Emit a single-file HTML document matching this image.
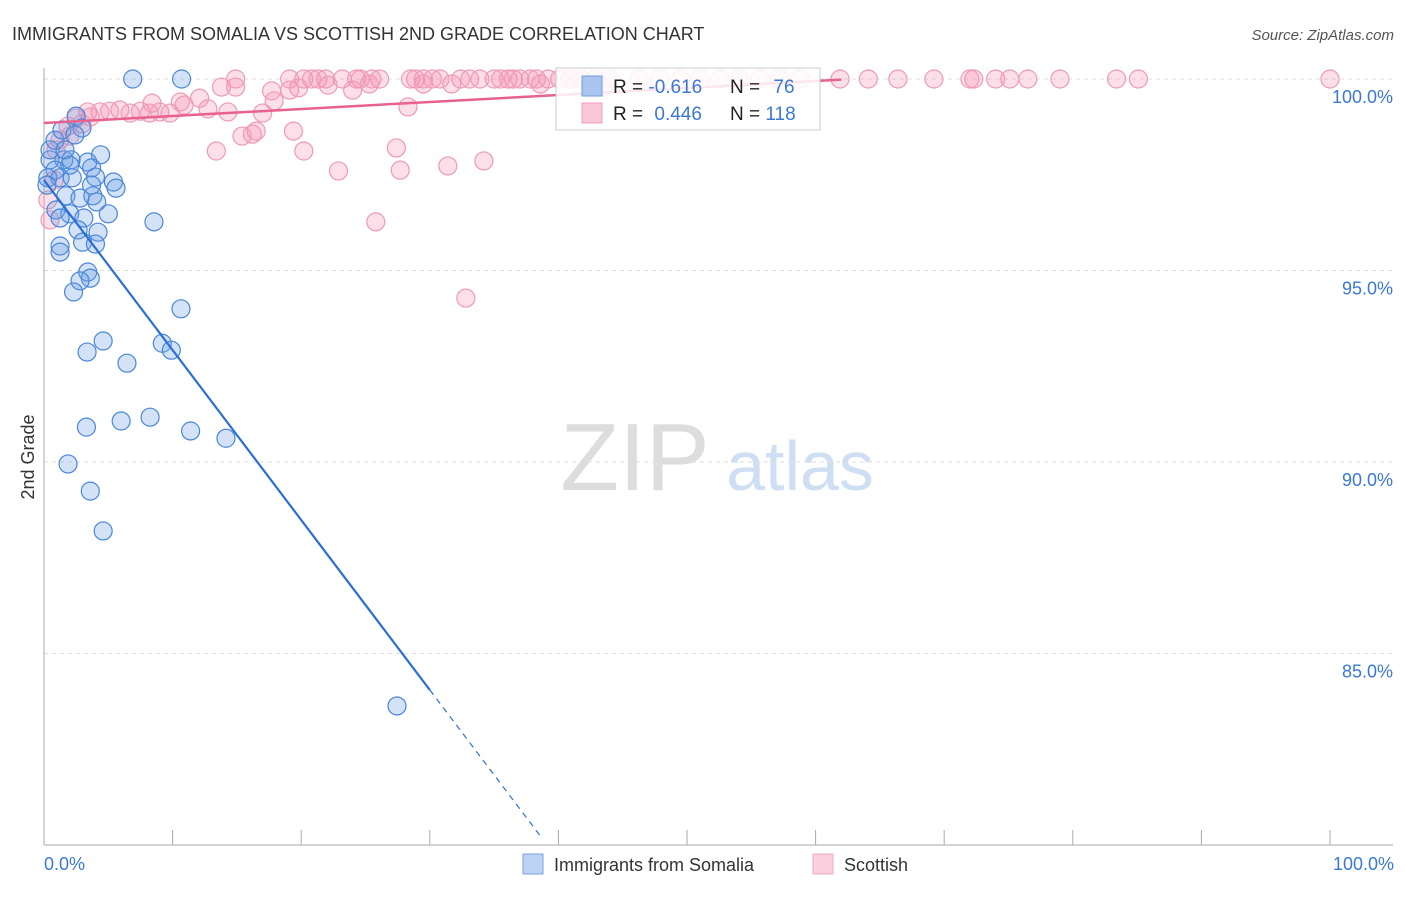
<!DOCTYPE html>
<html><head><meta charset="utf-8"><style>
body{margin:0;background:#fff;font-family:"Liberation Sans",sans-serif;}
svg text{font-family:"Liberation Sans",sans-serif;}
</style></head><body>
<svg id="chart" width="1406" height="892" xmlns="http://www.w3.org/2000/svg">
<text x="12" y="40" font-size="18" fill="#333">IMMIGRANTS FROM SOMALIA VS SCOTTISH 2ND GRADE CORRELATION CHART</text>
<text x="1394" y="40" font-size="15" fill="#555" font-style="italic" text-anchor="end">Source: ZipAtlas.com</text>
<text x="635" y="490" font-size="96" fill="#ddd" font-family="Liberation Serif,serif" text-anchor="middle">ZIP</text>
<text x="800" y="490" font-size="70" fill="#cfdff3" text-anchor="middle">atlas</text>
<g id="grid"></g><g id="axes"></g><g id="pts"></g><g id="lines"></g>
<g>
<rect x="556" y="68" width="264" height="62" fill="#fff" fill-opacity="0.85" stroke="#ccc"/>
<rect x="582" y="76" width="20" height="20" fill="#a9c4ee" stroke="#6f9be0"/>
<rect x="582" y="103" width="20" height="20" fill="#f9c6d6" stroke="#eca0b8"/>
<text x="613" y="93" font-size="19" fill="#222">R = <tspan fill="#3a78d4">-0.616</tspan></text>
<text x="730" y="93" font-size="19" fill="#222">N = <tspan fill="#3a78d4" dx="8">76</tspan></text>
<text x="613" y="120" font-size="19" fill="#222">R = <tspan fill="#3a78d4" dx="6">0.446</tspan></text>
<text x="730" y="120" font-size="19" fill="#222">N = <tspan fill="#3a78d4">118</tspan></text>
</g>
<text x="34" y="457" font-size="18" fill="#333" transform="rotate(-90 34 457)" text-anchor="middle">2nd Grade</text>
<text x="44" y="870" font-size="18" fill="#3a78d4">0.0%</text>
<text x="1394" y="870" font-size="18" fill="#3a78d4" text-anchor="end">100.0%</text>
<rect x="523" y="854" width="20" height="20" fill="#bcd3f4" stroke="#7aa3e2"/>
<text x="554" y="871" font-size="18" fill="#333">Immigrants from Somalia</text>
<rect x="813" y="854" width="20" height="20" fill="#fbd0de" stroke="#eeaac0"/>
<text x="844" y="871" font-size="18" fill="#333">Scottish</text>
</svg>
<script>
const yTicks=[100,95,90,85];
const yTickLabels=["100.0%","95.0%","90.0%","85.0%"];
const xTicks=[0,10,20,30,40,50,60,70,80,90,100];
const blueX=[6.9,10.7,2.5,2.95,4.4,3.4,3.7,1.55,2.1,0.47,0.86,0.3,1.25,2.2,4.0,3.7,5.4,5.6,1.7,2.8,3.8,4.1,0.93,5.0,2.0,1.25,3.1,8.55,2.65,4.2,3.0,4.0,1.25,1.25,3.4,3.6,2.8,2.3,10.65,4.6,3.35,9.2,9.9,6.45,3.3,6.0,8.25,11.4,14.15,1.87,3.6,4.6,27.45,0.47,0.86,1.63,0.23,1.4,2.4,2.0];
const blueY=[100,100,99.03,98.72,98.02,97.83,97.68,97.89,97.89,97.89,97.62,97.42,97.42,97.42,97.44,97.23,97.31,97.15,96.95,96.89,96.95,96.79,96.58,96.48,96.48,96.37,96.37,96.27,96.06,96.0,95.74,95.69,95.64,95.48,94.96,94.8,94.73,94.44,94.0,93.16,92.87,93.1,92.92,92.58,90.91,91.07,91.17,90.81,90.62,89.95,89.24,88.2,83.63,98.15,98.4,98.15,97.23,98.67,98.54,97.75];
const pinkTopX=[14.9,19.1,20.2,20.8,21.3,21.9,23.2,24.3,24.6,25.5,26.1,28.5,28.9,29.5,30.2,30.8,32.4,33.1,33.9,35.0,35.5,36.1,36.5,37.0,37.8,38.3,39.2,40.1,40.9,41.7,42.9,44.0,46.3,47.9,49.5,51.0,52.6,54.1,55.7,57.2,58.8,61.9,64.1,66.4,69.2,72.0,72.3,74.0,75.1,76.5,79.0,83.4,85.1,100];
const pinkX=[13.8,14.9,17.7,19.1,19.8,22.1,24.0,25.3,29.5,31.7,38.6,43.5,8.4,10.6,12.1,17.9,10.9,12.75,14.3,17.0,28.3,3.4,4.35,5.1,5.9,6.7,7.5,8.2,9.0,9.8,2.5,3.6,1.87,2.95,1.25,2.0,13.4,15.4,16.2,16.5,19.4,20.2,22.9,27.4,27.7,31.4,34.2,25.8,32.8,0.93,0.3,0.47,0.78];
const pinkY=[99.79,99.79,99.69,99.71,99.77,99.84,99.71,99.87,99.87,99.87,99.87,99.79,99.37,99.4,99.5,99.43,99.32,99.22,99.14,99.11,99.27,99.14,99.14,99.16,99.19,99.11,99.16,99.11,99.14,99.11,98.98,99.01,98.77,98.83,98.41,98.51,98.12,98.51,98.56,98.64,98.64,98.12,97.6,98.2,97.62,97.73,97.86,96.27,94.28,98.15,96.84,96.32,97.36];
const pinkFit=[98.85,0.0183,0,62];
const blueFit=[97.36,-0.4437,0,30,38.6];
const X=v=>44+v*12.86, Y=v=>79+(100-v)*38.3;
const NS="http://www.w3.org/2000/svg";
function mk(p,tag,a){const e=document.createElementNS(NS,tag);for(const k in a)e.setAttribute(k,a[k]);p.appendChild(e);return e;}
const grid=document.getElementById('grid'),axes=document.getElementById('axes'),pts=document.getElementById('pts'),lines=document.getElementById('lines');
yTicks.forEach((t,i)=>{
 const l=mk(grid,'line',{x1:44,x2:1393,y1:Y(t),y2:Y(t),stroke:'#ddd','stroke-dasharray':'4,4'});
 
 
 const tx=mk(axes,'text',{x:1393,y:Y(t)+24,'font-size':18,fill:'#3a78d4','text-anchor':'end'});
 tx.textContent=yTickLabels[i];
 
 
});
const ax=mk(axes,'line',{x1:44,x2:1393,y1:845,y2:845,stroke:'#aaa'});


const ay=mk(axes,'line',{x1:44,x2:44,y1:68,y2:845,stroke:'#aaa'});


xTicks.forEach(t=>{
 const l=mk(axes,'line',{x1:X(t),x2:X(t),y1:830,y2:845,stroke:'#aaa'});
 
 
});
function dot(x,y,f,s,n){
 const c=mk(pts,'circle',{cx:X(x),cy:Y(y),r:9,fill:f,stroke:s,'stroke-width':1.2});
 
 
}
pinkTopX.forEach(x=>dot(x,100,'rgba(244,150,180,0.3)','#ee9ab5','scottish-point'));
pinkX.forEach((x,i)=>dot(x,pinkY[i],'rgba(244,150,180,0.3)','#ee9ab5','scottish-point'));
blueX.forEach((x,i)=>dot(x,blueY[i],'rgba(110,160,230,0.3)','#4a86d8','somalia-point'));
const pl=mk(lines,'line',{x1:X(pinkFit[2]),y1:Y(pinkFit[0]+pinkFit[1]*pinkFit[2]),x2:X(pinkFit[3]),y2:Y(pinkFit[0]+pinkFit[1]*pinkFit[3]),stroke:'#e8628c','stroke-width':2.5});


const bl=mk(lines,'line',{x1:X(blueFit[2]),y1:Y(blueFit[0]+blueFit[1]*blueFit[2]),x2:X(blueFit[3]),y2:Y(blueFit[0]+blueFit[1]*blueFit[3]),stroke:'#2a6fd6','stroke-width':2.2});


const bd=mk(lines,'line',{x1:X(blueFit[3]),y1:Y(blueFit[0]+blueFit[1]*blueFit[3]),x2:X(blueFit[4]),y2:Y(blueFit[0]+blueFit[1]*blueFit[4]),stroke:'#2a6fd6','stroke-width':1.2,'stroke-dasharray':'6,5'});


</script>
</body></html>
